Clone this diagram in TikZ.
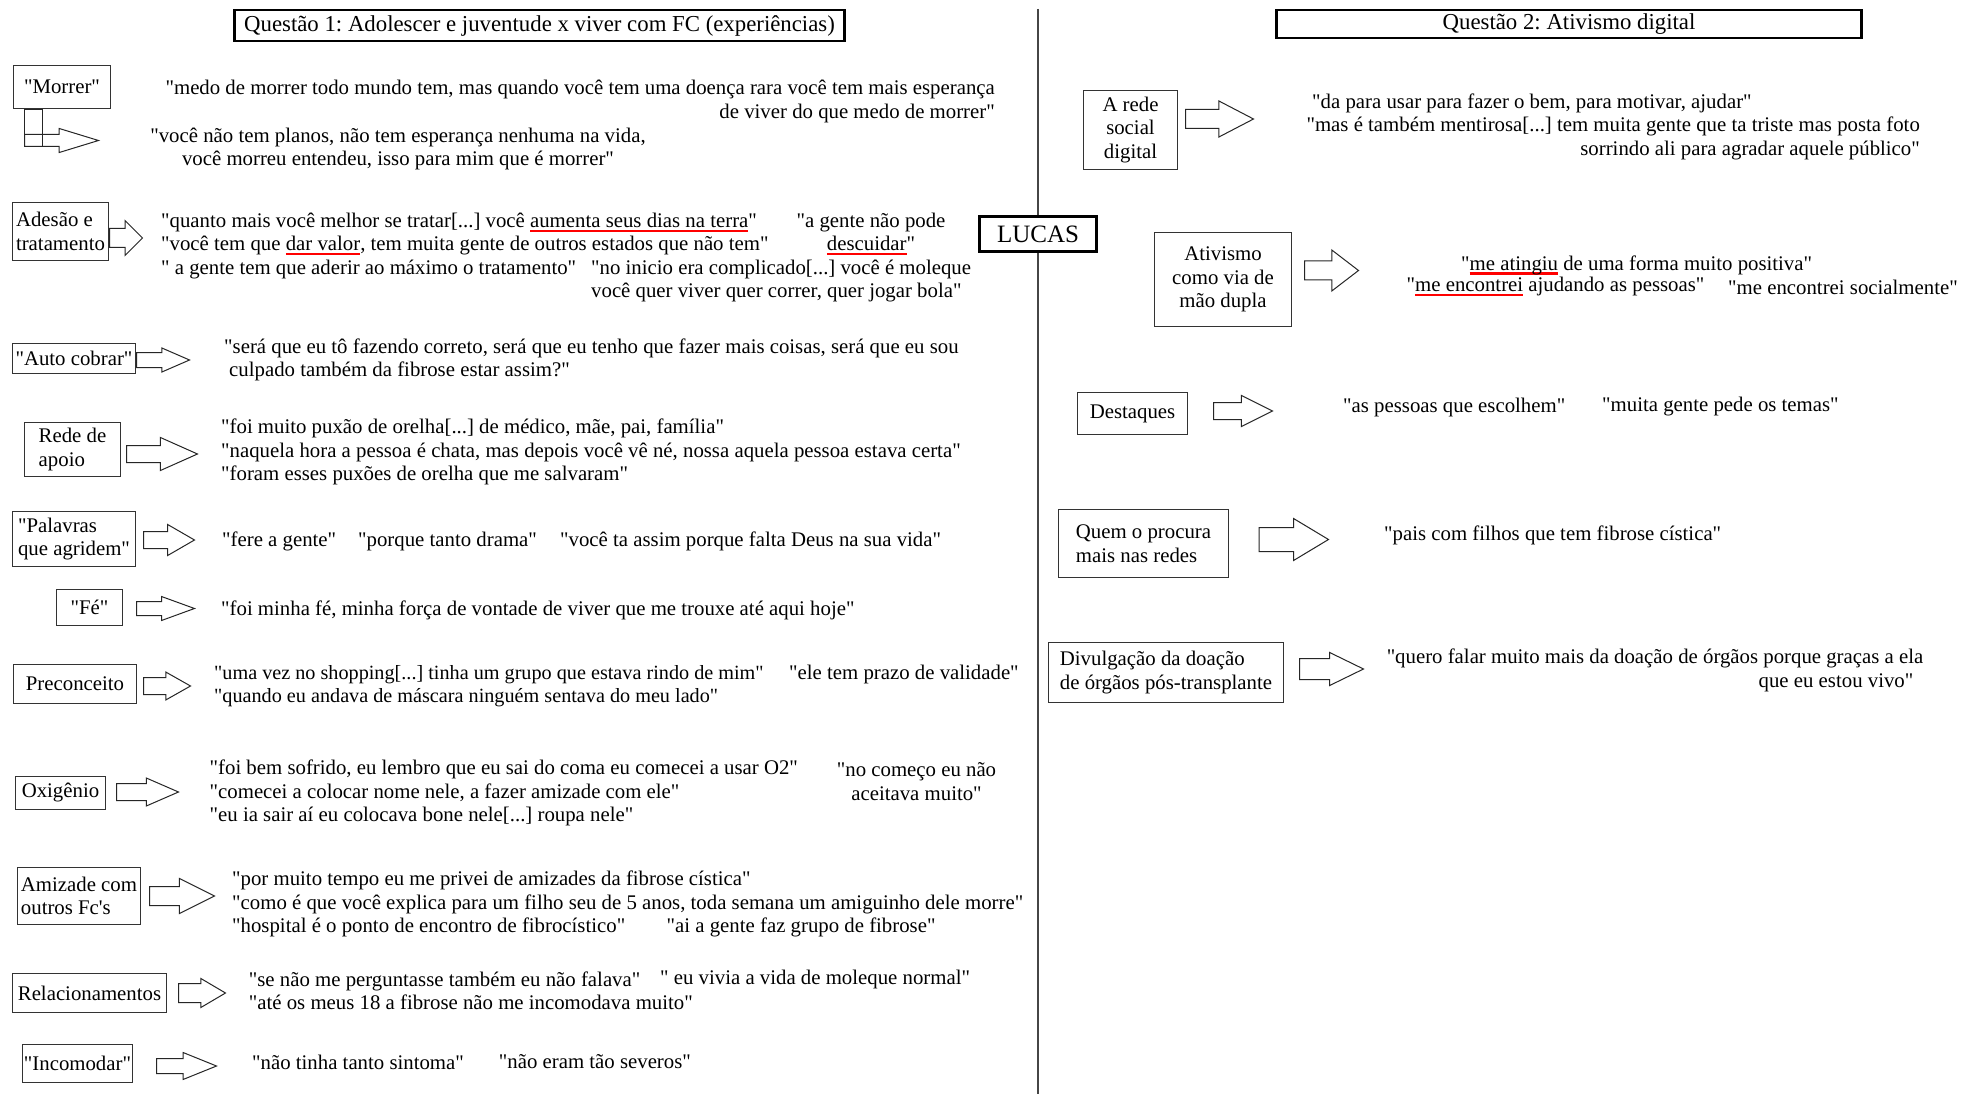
\documentclass[tikz,border=0pt]{standalone}
\usepackage{fontspec}
\setmainfont{Liberation Serif}[Ligatures=TeXOff]
\usetikzlibrary{shapes.arrows}
\newsavebox\rulbox
\newcommand\rul[1]{\sbox\rulbox{#1}\rlap{\textcolor{red}{\rule[-4.5pt]{\wd\rulbox}{2.2pt}}}\usebox\rulbox}
\newcommand\fq{\frenchspacing\fontsize{20.8}{23.5}\selectfont}
\newcommand\ft{\frenchspacing\fontsize{22.8}{26}\selectfont}
\tikzset{
 lbl/.style={draw=black!80, line width=1pt, inner sep=0pt, font=\fq, align=center, fill=white},
 ttl/.style={draw=black, line width=2.6pt, inner sep=0pt, font=\ft, fill=white},
 qt/.style={inner sep=0pt, font=\fq, anchor=west, align=left},
 barrow/.style={single arrow, draw=black!85, line width=1pt, inner xsep=0pt, minimum width=0pt, anchor=tail},
}
\newcommand\barr[7]{\node[barrow, minimum height=#4pt, inner ysep=#5pt, single arrow head extend=#6pt, single arrow tip angle=#7] (#1) at (#2,#3) {};}
\begin{document}
\begin{tikzpicture}[x=1pt,y=-1pt]
\useasboundingbox (0,0) rectangle (1982,1094);
\fill[white] (0,0) rectangle (1982,1094);
% divider
\coordinate (dtop) at (1038,9);
\coordinate (dbot) at (1038,1094);
\draw[gray!55!black, line width=1.2pt] (dtop) -- (dbot);
% titles
\node[ttl, minimum width=610pt, minimum height=31pt] (t1) at (539.5,25.5) {Questão 1: Adolescer e juventude x viver com FC (experiências)};
\node[ttl, minimum width=585pt, minimum height=28pt] (t2) at (1569,24) {Questão 2: Ativismo digital};
\node[ttl, minimum width=117pt, minimum height=35pt, font=\fontsize{25}{28}\selectfont] (lucas) at (1038,234) {LUCAS};
% left boxes
\node[lbl, minimum width=97pt, minimum height=43pt] (b1) at (62,87) {"Morrer"};
\node[draw=black!85, line width=1pt, minimum width=18pt, minimum height=37pt, inner sep=0pt, anchor=north west] (b1v) at (24,109) {};
\node[lbl, minimum width=96pt, minimum height=58pt, align=left] (b2) at (60.5,231.5) {Adesão e\\tratamento};
\node[lbl, minimum width=123pt, minimum height=30pt] (b3) at (74,358.5) {"Auto cobrar"};
\node[lbl, minimum width=96pt, minimum height=54pt, align=left] (b4) at (72.5,449.5) {Rede de\\apoio};
\node[lbl, minimum width=123pt, minimum height=55pt, align=left] (b5) at (74,539) {"Palavras\\que agridem"};
\node[lbl, minimum width=66pt, minimum height=36pt] (b6) at (89.5,607.5) {"Fé"};
\node[lbl, minimum width=123pt, minimum height=39pt] (b7) at (75,684) {Preconceito};
\node[lbl, minimum width=90pt, minimum height=33pt] (b8) at (60.5,793) {Oxigênio};
\node[lbl, minimum width=123pt, minimum height=57pt, align=left] (b9) at (79,896) {Amizade com\\outros Fc's};
\node[lbl, minimum width=154pt, minimum height=39pt] (b10) at (89.5,993) {Relacionamentos};
\node[lbl, minimum width=110pt, minimum height=38pt] (b11) at (77.5,1063.5) {"Incomodar"};
% right boxes
\node[lbl, minimum width=94pt, minimum height=79pt] (r1) at (1130.5,130) {A rede\\social\\digital};
\node[lbl, minimum width=137pt, minimum height=94pt] (r2) at (1223,279.5) {Ativismo\\como via de\\mão dupla};
\node[lbl, minimum width=110pt, minimum height=42pt] (r3) at (1132.5,413.5) {Destaques};
\node[lbl, minimum width=170pt, minimum height=68pt, align=left] (r4) at (1143.5,543.5) {Quem o procura\\mais nas redes};
\node[lbl, minimum width=235pt, minimum height=60pt, align=left] (r5) at (1166,672.5) {Divulgação da doação\\de órgãos pós-transplante};
% block arrows
\barr{a1}{24}{140.5}{74}{5.5}{6}{34}
\barr{a2}{109}{238}{33}{9}{8}{90}
\barr{a3}{136}{360}{53}{7}{4.5}{47}
\barr{a4}{126}{454}{71}{8}{8}{48}
\barr{a5}{143}{540}{51}{8}{7}{60}
\barr{a6}{136}{608.5}{58}{6.5}{5}{40}
\barr{a7}{143}{686}{47}{8}{5.5}{59}
\barr{a8}{116}{792}{62}{8}{5.5}{47}
\barr{a9}{149}{896}{65}{9}{8}{53}
\barr{a10}{178}{993}{47}{9}{5}{61}
\barr{a11}{156}{1066}{60}{7}{6}{44}
\barr{ra1}{1185}{119}{68}{9}{8.5}{55}
\barr{ra2}{1304}{270.5}{54}{9}{11}{75}
\barr{ra3}{1213}{411}{59}{8}{7}{53}
\barr{ra4}{1258.5}{539.5}{69.5}{11.5}{9}{62}
\barr{ra5}{1299}{669}{64}{10}{6}{52}
% left quotes
\node[qt, anchor=east, align=right] (qm1) at (995,101.5) {"medo de morrer todo mundo tem, mas quando você tem uma doença rara você tem mais esperança\\de viver do que medo de morrer"};
\node[qt, anchor=center, align=center] (qm2) at (398,149) {"você não tem planos, não tem esperança nenhuma na vida,\\você morreu entendeu, isso para mim que é morrer"};
\node[qt] (qa1) at (161,246) {"quanto mais você melhor se tratar[...] você \rul{aumenta seus dias na terra}"\\"você tem que \rul{dar valor}, tem muita gente de outros estados que não tem"\\" a gente tem que aderir ao máximo o tratamento"};
\node[qt, anchor=center, align=center] (qa2) at (871,234) {"a gente não pode\\\rul{descuidar}"};
\node[qt] (qa3) at (591,281) {"no inicio era complicado[...] você é moleque\\você quer viver quer correr, quer jogar bola"};
\node[qt] (qac) at (224,360) {"será que eu tô fazendo correto, será que eu tenho que fazer mais coisas, será que eu sou\\\hspace*{5pt}culpado também da fibrose estar assim?"};
\node[qt] (qr) at (221,452) {"foi muito puxão de orelha[...] de médico, mãe, pai, família"\\"naquela hora a pessoa é chata, mas depois você vê né, nossa aquela pessoa estava certa"\\"foram esses puxões de orelha que me salvaram"};
\node[qt] (qp1) at (222,541) {"fere a gente"};
\node[qt] (qp2) at (358,541) {"porque tanto drama"};
\node[qt] (qp3) at (560,541) {"você ta assim porque falta Deus na sua vida"};
\node[qt] (qf) at (221,610) {"foi minha fé, minha força de vontade de viver que me trouxe até aqui hoje"};
\node[qt, font=\frenchspacing\fontsize{20.2}{23.5}\selectfont] (qpr1) at (214,686) {"uma vez no shopping[...] tinha um grupo que estava rindo de mim"\\"quando eu andava de máscara ninguém sentava do meu lado"};
\node[qt] (qpr2) at (789,674) {"ele tem prazo de validade"};
\node[qt] (qo1) at (209.5,793) {"foi bem sofrido, eu lembro que eu sai do coma eu comecei a usar O2"\\"comecei a colocar nome nele, a fazer amizade com ele"\\"eu ia sair aí eu colocava bone nele[...] roupa nele"};
\node[qt, anchor=center, align=center] (qo2) at (916.5,781.5) {"no começo eu não\\aceitava muito"};
\node[qt] (qam1) at (232,904) {"por muito tempo eu me privei de amizades da fibrose cística"\\"como é que você explica para um filho seu de 5 anos, toda semana um amiguinho dele morre"\\"hospital é o ponto de encontro de fibrocístico"};
\node[qt] (qam2) at (666.5,927) {"ai a gente faz grupo de fibrose"};
\node[qt] (qre1) at (248.7,991) {"se não me perguntasse também eu não falava"\\"até os meus 18 a fibrose não me incomodava muito"};
\node[qt] (qre2) at (660,979) {" eu vivia a vida de moleque normal"};
\node[qt] (qin1) at (252,1062) {"não tinha tanto sintoma"};
\node[qt] (qin2) at (498.7,1062) {"não eram tão severos"};
% right quotes
\node[qt] (qar1) at (1312,103) {"da para usar para fazer o bem, para motivar, ajudar"};
\node[qt, anchor=east, align=right] (qar2) at (1920,138.5) {"mas é também mentirosa[...] tem muita gente que ta triste mas posta foto\\sorrindo ali para agradar aquele público"};
\node[qt] (qat1) at (1461,265) {"\rul{me atingiu} de uma forma muito positiva"};
\node[qt] (qat2) at (1406.5,287) {"\rul{me encontrei} ajudando as pessoas"};
\node[qt] (qat3) at (1728,287) {"me encontrei socialmente"};
\node[qt] (qd1) at (1343,407) {"as pessoas que escolhem"};
\node[qt] (qd2) at (1602,407) {"muita gente pede os temas"};
\node[qt] (qq) at (1384,535) {"pais com filhos que tem fibrose cística"};
\node[qt, anchor=east, align=right] (qdv) at (1923.5,670.5) {"quero falar muito mais da doação de órgãos porque graças a ela\\que eu estou vivo"\hspace*{10pt}};
\end{tikzpicture}
\end{document}
